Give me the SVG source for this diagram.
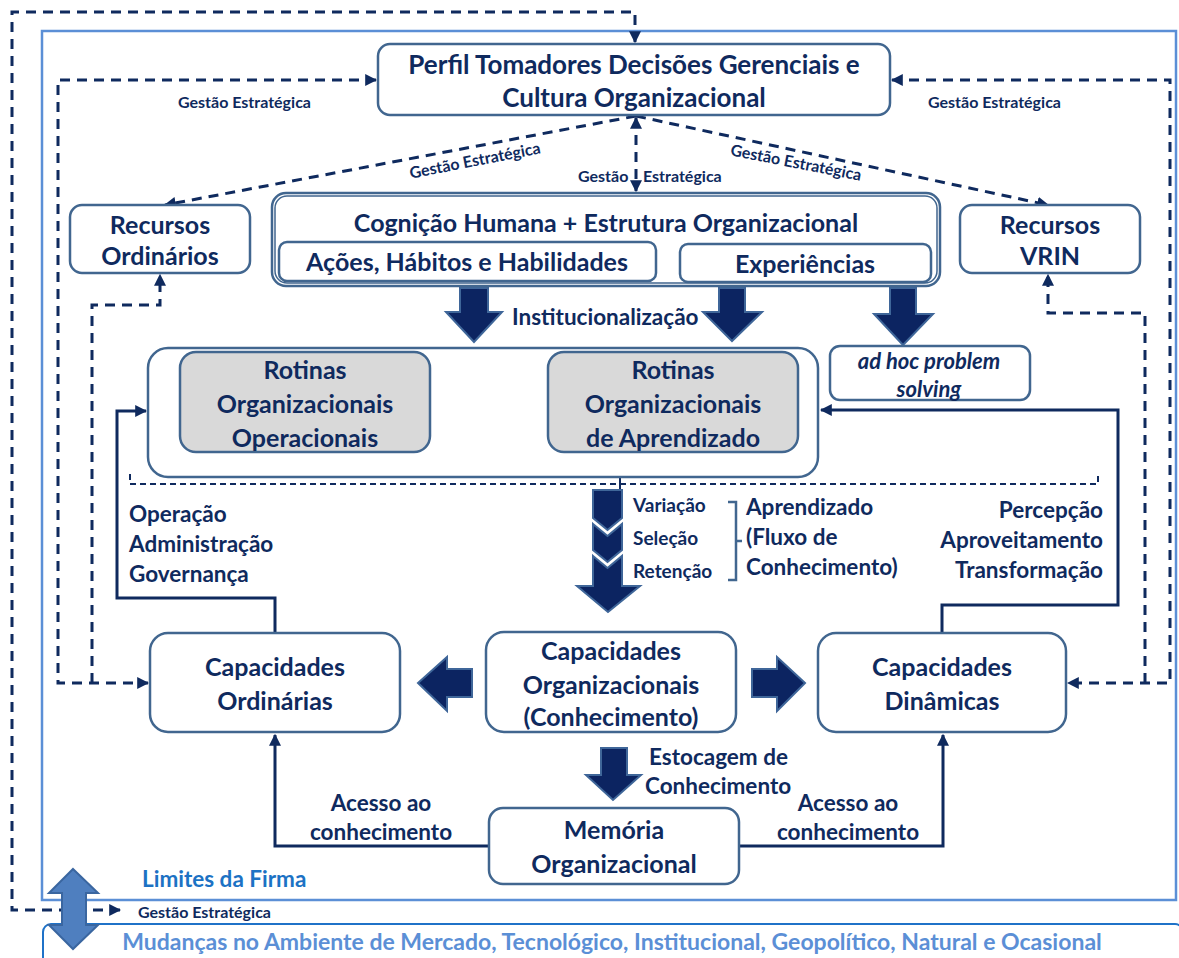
<svg xmlns="http://www.w3.org/2000/svg" width="1179" height="958" viewBox="0 0 1179 958">
<style>
text{font-family:"Lato","Open Sans",sans-serif;font-weight:bold;fill:#0f2a5e}
.box{fill:#fff;stroke:#41668f;stroke-width:2.5}
.gray{fill:#d9d9d9;stroke:#41668f;stroke-width:2.5}
.dash{fill:none;stroke:#0f2a5e;stroke-width:3;stroke-dasharray:10 7}
.dsm{fill:none;stroke:#0f2a5e;stroke-width:2.5;stroke-dasharray:8 6}
.solid{fill:none;stroke:#0f2a5e;stroke-width:3}
.blk{fill:#0c2461;stroke:#3f6699;stroke-width:2}
.big{font-size:26px}
.mid{font-size:25px}
.lbl{font-size:22.5px}
.sm{font-size:16px}
.c{text-anchor:middle}
</style>
<defs>
<marker id="ah" markerUnits="userSpaceOnUse" markerWidth="12" markerHeight="12" viewBox="0 0 10 10" refX="9" refY="5" orient="auto-start-reverse">
<path d="M0,0 L10,5 L0,10 z" fill="#0f2a5e"/>
</marker>
</defs>

<!-- firm boundary -->
<rect x="42" y="31" width="1134" height="869" fill="none" stroke="#5b8fd6" stroke-width="2.5"/>
<rect x="43" y="924" width="1140" height="60" rx="8" fill="#fff" stroke="#1f72c8" stroke-width="2"/>

<g id="connectors">
<path class="dash" d="M635,42 L635,12 L12,12 L12,910 L120,910" marker-start="url(#ah)" marker-end="url(#ah)"/>
<path class="dash" d="M376,80 L58,80 L58,683 L148,683" marker-start="url(#ah)" marker-end="url(#ah)"/>
<path class="dash" d="M92,683 L92,305 L160,305 L160,275" marker-end="url(#ah)"/>
<path class="dash" d="M892,80 L1170,80 L1170,683 L1068,683" marker-start="url(#ah)" marker-end="url(#ah)"/>
<path class="dash" d="M1145,683 L1145,313 L1048,313 L1048,275" marker-end="url(#ah)"/>
<path class="dash" d="M636,116 L165,205" marker-end="url(#ah)"/>
<path class="dash" d="M636,116 L1048,205" marker-end="url(#ah)"/>
<path class="dash" d="M636,118 L636,191" marker-start="url(#ah)" marker-end="url(#ah)"/>
<path class="dsm" d="M305,455 L305,463 L368,463" marker-start="url(#ah)" marker-end="url(#ah)"/>
<path class="dsm" d="M675,455 L675,463 L598,463" marker-start="url(#ah)" marker-end="url(#ah)"/>
<path fill="none" stroke="#0f2a5e" stroke-width="2" stroke-dasharray="6 4" d="M130,474 L130,484 L1098,484 L1098,474"/>
<path fill="none" stroke="#0f2a5e" stroke-width="2" d="M620,477 L620,490"/>
<path class="solid" d="M275,633 L275,598 L117,598 L117,411 L146,411" marker-end="url(#ah)"/>
<path class="solid" d="M942,633 L942,605 L1118,605 L1118,410 L821,410" marker-end="url(#ah)"/>
<path class="solid" d="M489,846 L275,846 L275,735" marker-end="url(#ah)"/>
<path class="solid" d="M739,846 L943,846 L943,735" marker-end="url(#ah)"/>
</g>

<g id="labels">
<text class="sm" x="178" y="108">Gestão Estratégica</text>
<text class="sm" x="928" y="108">Gestão Estratégica</text>
<text class="sm c" transform="translate(476,166) rotate(-11)">Gestão Estratégica</text>
<text class="sm c" transform="translate(795,168) rotate(11)">Gestão Estratégica</text>
<text class="sm" x="578" y="182">Gestão</text>
<text class="sm" x="643" y="182">Estratégica</text>
<text class="sm c" x="483" y="472">Gestão Estratégica</text>
<text class="sm" x="138" y="918">Gestão Estratégica</text>
<text class="lbl" x="512" y="325">Institucionalização</text>
<text class="lbl" x="129" y="522">Operação</text>
<text class="lbl" x="129" y="552">Administração</text>
<text class="lbl" x="129" y="582">Governança</text>
<text class="lbl" x="1103" y="518" text-anchor="end">Percepção</text>
<text class="lbl" x="1103" y="548" text-anchor="end">Aproveitamento</text>
<text class="lbl" x="1103" y="578" text-anchor="end">Transformação</text>
<text x="633" y="512" font-size="19">Variação</text>
<text x="633" y="545" font-size="19">Seleção</text>
<text x="633" y="578" font-size="19">Retenção</text>
<text class="lbl" x="746" y="515">Aprendizado</text>
<text class="lbl" x="746" y="545">(Fluxo de</text>
<text class="lbl" x="746" y="575">Conhecimento)</text>
<text class="lbl" x="649" y="765">Estocagem de</text>
<text class="lbl" x="645" y="794">Conhecimento</text>
<text class="lbl c" x="381" y="811">Acesso ao</text>
<text class="lbl c" x="381" y="840">conhecimento</text>
<text class="lbl c" x="848" y="811">Acesso ao</text>
<text class="lbl c" x="848" y="840">conhecimento</text>
<text x="142" y="887" font-size="22.5" style="fill:#1c72c4">Limites da Firma</text>
<text class="c" x="612" y="950" font-size="23" style="fill:#5b8fd6">Mudanças no Ambiente de Mercado, Tecnológico, Institucional, Geopolítico, Natural e Ocasional</text>
</g>

<g id="block-arrows">
<path class="blk" d="M460,288 L488,288 L488,312 L502,312 L474,342 L446,312 L460,312 z"/>
<path class="blk" d="M719,288 L745,288 L745,312 L762,312 L732,341 L703,312 L719,312 z"/>
<path class="blk" d="M890,288 L916,288 L916,314 L933,314 L903,345 L874,314 L890,314 z"/>
<path class="blk" d="M447,386 L472,362 L472,374 L505,374 L505,362 L529,386 L505,410 L505,398 L472,398 L472,410 z"/>
<path class="blk" d="M593,490 L622,490 L622,518 L607.5,530 L593,518 z"/>
<path class="blk" d="M593,524 L607.5,536 L622,524 L622,550 L607.5,562 L593,550 z"/>
<path class="blk" d="M593,556 L607.5,568 L622,556 L622,586 L640,586 L608,612 L577,586 L593,586 z"/>
<path class="blk" d="M418,683 L447,657 L447,669 L472,669 L472,697 L447,697 L447,711 z"/>
<path class="blk" d="M805,683 L777,657 L777,669 L752,669 L752,697 L777,697 L777,711 z"/>
<path class="blk" d="M601,748 L627,748 L627,775 L641,775 L613,800 L586,775 L601,775 z"/>
<path d="M73,869 L98,893 L86,893 L86,925 L98,925 L73,949 L49,925 L62,925 L62,893 L49,893 z" fill="#4f7fbf" stroke="#3a66a0" stroke-width="2"/>
<path d="M728,502 L736,502 L736,580 L728,580 M736,541 L742,541" fill="none" stroke="#41668f" stroke-width="2.5"/>
</g>

<g id="perfil">
<rect class="box" x="378" y="44" width="512" height="71" rx="12"/>
<text class="big c" x="634" y="74">Perfil Tomadores Decisões Gerenciais e</text>
<text class="big c" x="634" y="107">Cultura Organizacional</text>
</g>
<g id="recursos-ordinarios">
<rect class="box" x="70" y="205" width="180" height="68" rx="12"/>
<text class="mid c" x="160" y="234">Recursos</text>
<text class="mid c" x="160" y="265">Ordinários</text>
</g>
<g id="recursos-vrin">
<rect class="box" x="960" y="205" width="180" height="68" rx="12"/>
<text class="mid c" x="1050" y="234">Recursos</text>
<text class="mid c" x="1050" y="265">VRIN</text>
</g>
<g id="cognicao">
<rect class="box" x="272" y="193" width="668" height="93" rx="14"/>
<rect x="275" y="196" width="662" height="87" rx="12" fill="none" stroke="#41668f" stroke-width="1.5"/>
<text class="mid c" x="606" y="232">Cognição Humana + Estrutura Organizacional</text>
</g>
<g id="acoes">
<rect class="box" x="279" y="242" width="377" height="39" rx="8"/>
<text class="mid c" x="467" y="271">Ações, Hábitos e Habilidades</text>
</g>
<g id="experiencias">
<rect class="box" x="680" y="244" width="251" height="38" rx="8"/>
<text class="mid c" x="805" y="273">Experiências</text>
</g>
<g id="rotinas">
<rect class="box" x="148" y="348" width="670" height="129" rx="20"/>
</g>
<g id="rotinas-operacionais">
<rect class="gray" x="180" y="352" width="250" height="100" rx="16"/>
<text class="mid c" x="305" y="379">Rotinas</text>
<text class="mid c" x="305" y="413">Organizacionais</text>
<text class="mid c" x="305" y="447">Operacionais</text>
</g>
<g id="rotinas-aprendizado">
<rect class="gray" x="548" y="352" width="250" height="100" rx="16"/>
<text class="mid c" x="673" y="379">Rotinas</text>
<text class="mid c" x="673" y="413">Organizacionais</text>
<text class="mid c" x="673" y="447">de Aprendizado</text>
</g>
<g id="adhoc">
<rect class="box" x="830" y="346" width="200" height="54" rx="10"/>
<text class="c" x="929" y="369" font-size="22" font-style="italic">ad hoc problem</text>
<text class="c" x="929" y="397" font-size="22" font-style="italic">solving</text>
</g>
<g id="cap-ordinarias">
<rect class="box" x="150" y="633" width="250" height="99" rx="18"/>
<text class="mid c" x="275" y="676">Capacidades</text>
<text class="mid c" x="275" y="710">Ordinárias</text>
</g>
<g id="cap-organizacionais">
<rect class="box" x="486" y="632" width="250" height="100" rx="18"/>
<text class="mid c" x="611" y="660">Capacidades</text>
<text class="mid c" x="611" y="694">Organizacionais</text>
<text class="mid c" x="611" y="726">(Conhecimento)</text>
</g>
<g id="cap-dinamicas">
<rect class="box" x="818" y="633" width="248" height="99" rx="18"/>
<text class="mid c" x="942" y="676">Capacidades</text>
<text class="mid c" x="942" y="710">Dinâmicas</text>
</g>
<g id="memoria">
<rect class="box" x="489" y="808" width="250" height="76" rx="14"/>
<text class="mid c" x="614" y="839">Memória</text>
<text class="mid c" x="614" y="873">Organizacional</text>
</g>
</svg>
